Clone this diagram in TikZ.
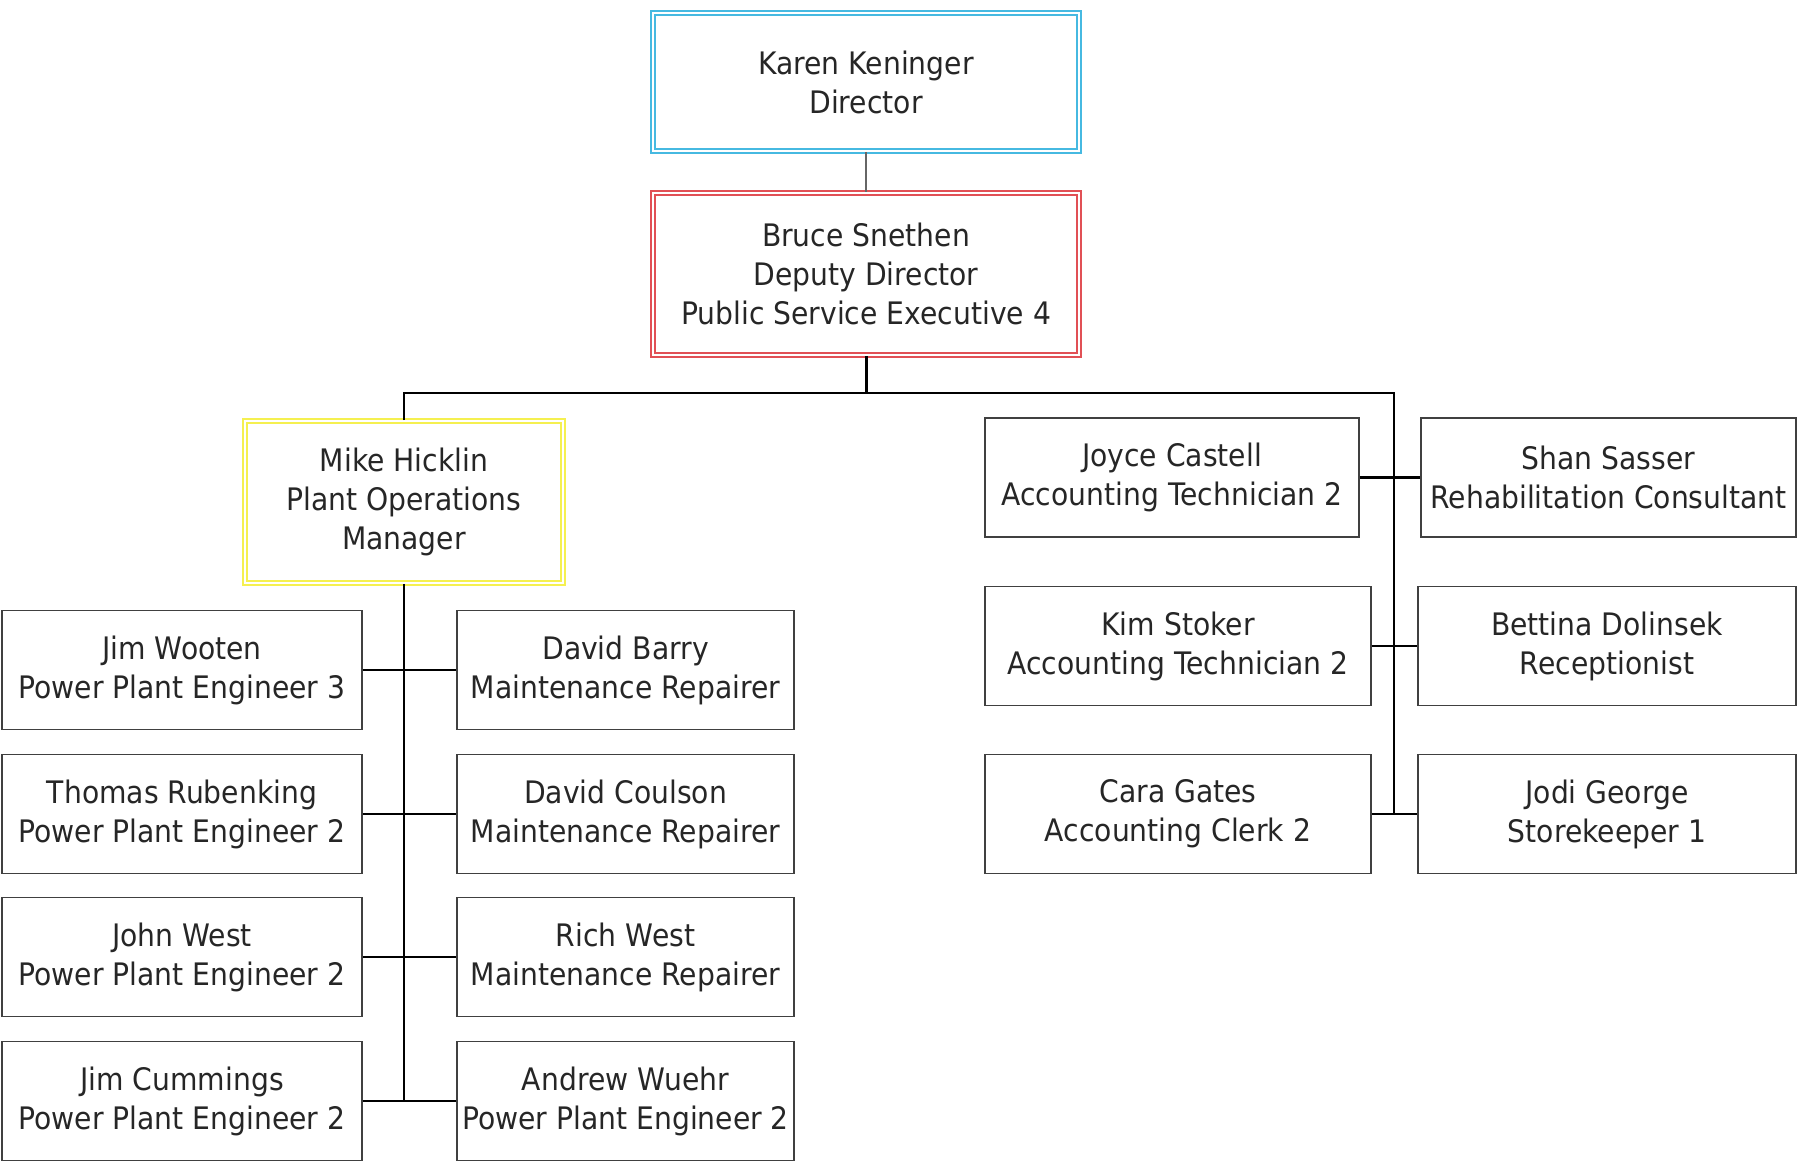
\documentclass[tikz,border=0pt]{standalone}
\usepackage{fontspec}
\setmainfont{DejaVu Sans}[FakeStretch=0.91]
\definecolor{dirblue}{RGB}{70,185,225}
\definecolor{deputyred}{RGB}{225,80,85}
\definecolor{mgryellow}{RGB}{245,240,80}
\tikzset{
  staff/.style={draw=black!75, line width=0.9pt, inner sep=0pt, minimum height=59.5pt},
  lead/.style={line width=0.9pt, double=white, double distance=1.2pt, inner sep=0pt},
  link/.style={draw=black, line width=1.1pt},
}
\begin{document}
\begin{tikzpicture}[x=0.5pt, y=-0.5pt, every node/.style={align=center, font=\fontsize{15.5}{19.5}\selectfont, text=black!85}]
  \useasboundingbox (0,0) rectangle (1798,1163);

  % top of the chart
  \node[lead, draw=dirblue, minimum width=213pt, minimum height=69pt] (karen) at (866,82) {Karen Keninger\\Director};
  \node[lead, draw=deputyred, minimum width=213pt, minimum height=81pt] (bruce) at (866,274) {Bruce Snethen\\Deputy Director\\Public Service Executive 4};
  \node[lead, draw=mgryellow, minimum width=159pt, minimum height=81pt] (mike) at (404,502) {Mike Hicklin\\Plant Operations\\Manager};

  % plant operations
  \node[staff, minimum width=180pt] (jimw) at (182,670) {Jim Wooten\\Power Plant Engineer 3};
  \node[staff, minimum width=180pt] (thomas) at (182,814) {Thomas Rubenking\\Power Plant Engineer 2};
  \node[staff, minimum width=180pt] (johnw) at (182,957) {John West\\Power Plant Engineer 2};
  \node[staff, minimum width=180pt] (jimc) at (182,1101) {Jim Cummings\\Power Plant Engineer 2};
  \node[staff, minimum width=168.5pt] (barry) at (625.5,670) {David Barry\\Maintenance Repairer};
  \node[staff, minimum width=168.5pt] (coulson) at (625.5,814) {David Coulson\\Maintenance Repairer};
  \node[staff, minimum width=168.5pt] (richw) at (625.5,957) {Rich West\\Maintenance Repairer};
  \node[staff, minimum width=168.5pt] (andrew) at (625.5,1101) {Andrew Wuehr\\Power Plant Engineer 2};

  % office staff
  \node[staff, minimum width=187pt] (joyce) at (1172,477.5) {Joyce Castell\\Accounting Technician 2};
  \node[staff, minimum width=193pt] (kim) at (1178,646) {Kim Stoker\\Accounting Technician 2};
  \node[staff, minimum width=193pt] (cara) at (1178,814) {Cara Gates\\Accounting Clerk 2};
  \node[staff, minimum width=187.5pt] (shan) at (1608.5,477.5) {Shan Sasser\\Rehabilitation Consultant};
  \node[staff, minimum width=189pt] (bettina) at (1607,646) {Bettina Dolinsek\\Receptionist};
  \node[staff, minimum width=189pt] (jodi) at (1607,814) {Jodi George\\Storekeeper 1};

  % connectors
  \coordinate (hub) at (866,393);
  \coordinate (rtop) at (1394,393);
  \coordinate (rend) at (1394,814);
  \draw[link, black!60] (karen.south) -- (bruce.north);
  \draw[link, line width=1.5pt] (bruce.south) -- (hub);
  \draw[link] (mike.north) |- (rtop) -- (rend);
  \draw[link] (mike.south) -- (mike.south |- jimc.east);
  \draw[link] (jimw.east) -- (barry.west);
  \draw[link] (thomas.east) -- (coulson.west);
  \draw[link] (johnw.east) -- (richw.west);
  \draw[link] (jimc.east) -- (andrew.west);
  \draw[link] (joyce.east) -- (shan.west);
  \draw[link] (kim.east) -- (bettina.west);
  \draw[link] (cara.east) -- (jodi.west);
\end{tikzpicture}
\end{document}
